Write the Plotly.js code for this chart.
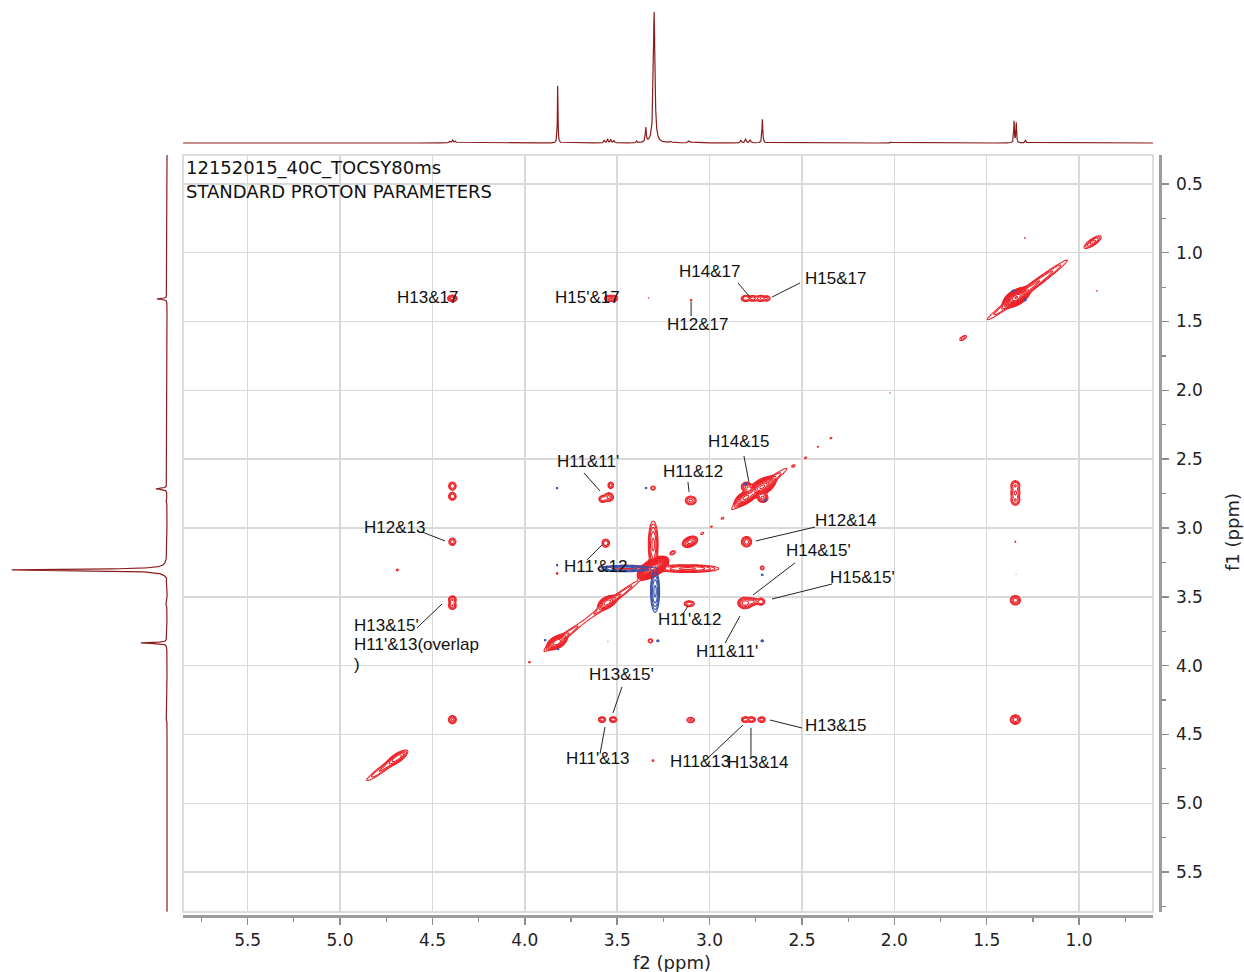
<!DOCTYPE html>
<html>
<head>
<meta charset="utf-8">
<script src="https://cdn.plot.ly/plotly-3.0.1.min.js"></script>
<style>
  html, body { margin: 0; padding: 0; background: #ffffff; }
  #chart { width: 1244px; height: 972px; }
</style>
</head>
<body>
<div id="chart"></div>
<script>
// ---------------- 1D proton spectrum along f2 (top trace) ----------------
// shift (ppm), height (relative), half-width (ppm)
const f2LineShift  = [4.405, 4.390, 4.375, 4.730, 3.822, 3.570, 3.552, 3.535, 3.518, 3.395, 3.345, 3.300, 3.210, 3.110, 2.830, 2.805, 2.780, 2.714, 2.020, 1.352, 1.340, 1.290];
const f2LineHeight = [0.012, 0.020, 0.012, -0.004, 0.420, 0.020, 0.028, 0.025, 0.018, 0.012, 0.100, 0.915, 0.010, 0.016, 0.018, 0.025, 0.020, 0.170, 0.006, 0.150, 0.140, 0.020];
const f2LineWidth  = [0.004, 0.004, 0.004, 0.004, 0.0018, 0.003, 0.003, 0.003, 0.003, 0.002, 0.003, 0.005, 0.006, 0.006, 0.004, 0.004, 0.004, 0.0025, 0.001, 0.0022, 0.0022, 0.003];

// ---------------- 1D proton spectrum along f1 (left trace) ----------------
const f1LineShift  = [0.930, 1.335, 2.030, 2.715, 2.800, 3.305, 3.360, 3.480, 3.550, 3.835, 4.390];
const f1LineHeight = [0.004, 0.060, 0.003, 0.066, 0.008, 0.930, -0.008, -0.006, 0.008, 0.156, 0.006];
const f1LineWidth  = [0.005, 0.004, 0.005, 0.005, 0.008, 0.006, 0.010, 0.008, 0.010, 0.004, 0.006];

// ---------------- 2D TOCSY peaks ----------------
// Positive cross peaks: f2, f1 (ppm), amplitude (contour threshold = 1), linewidths along f2 / f1 (ppm)
const crossF2  = [4.392, 3.548, 3.518, 3.100, 3.330, 2.805, 2.765, 2.725, 2.690,
                  1.345, 1.345, 1.345, 1.345, 1.340, 1.345, 1.345,
                  4.392, 4.392, 4.392, 4.392, 4.392, 4.392, 4.690,
                  3.535, 3.545, 3.580, 3.562, 3.582, 3.522,
                  3.825, 3.306, 3.320, 3.306,
                  3.102, 3.110, 3.102,
                  2.800, 2.808, 2.765, 2.722, 2.715, 2.808, 2.772, 2.718,
                  1.293, 0.903, 2.023, 2.712, 2.800,
                  3.305, 3.120, 3.450];
const crossF1  = [1.332, 1.332, 1.332, 1.345, 1.330, 1.332, 1.332, 1.332, 1.332,
                  2.690, 2.745, 2.800, 3.100, 3.335, 3.525, 4.392,
                  2.695, 2.770, 3.100, 3.520, 3.565, 4.392, 3.305,
                  2.690, 2.775, 2.790, 3.110, 4.392, 4.392,
                  3.330, 2.710, 3.820, 4.690,
                  2.800, 3.550, 4.395,
                  3.100, 3.545, 3.535, 3.535, 3.290, 4.392, 4.392, 4.392,
                  0.893, 1.278, 2.020, 2.780, 2.700,
                  3.120, 3.295, 3.285];
const crossAmp = [4.5, 3.5, 3.5, 1.4, 1.15, 3.5, 3.0, 3.5, 2.6,
                  3.5, 3.5, 3.5, 1.3, 1.1, 4.5, 4.5,
                  3.5, 3.5, 3.0, 3.5, 3.5, 4.0, 1.6,
                  3.0, 4.0, 3.0, 3.5, 3.2, 3.2,
                  1.5, 2.2, 2.2, 1.5,
                  4.0, 3.2, 2.6,
                  4.5, 7.0, 3.5, 3.5, 2.2, 3.0, 3.0, 3.0,
                  1.2, 1.2, 1.2, 6.0, 6.0,
                  6.0, 6.0, 2.2];
const crossW2  = [0.015, 0.013, 0.013, 0.006, 0.005, 0.015, 0.013, 0.013, 0.013,
                  0.015, 0.015, 0.015, 0.005, 0.005, 0.016, 0.016,
                  0.013, 0.013, 0.013, 0.013, 0.013, 0.013, 0.006,
                  0.010, 0.015, 0.013, 0.013, 0.013, 0.013,
                  0.005, 0.010, 0.010, 0.006,
                  0.018, 0.018, 0.015,
                  0.016, 0.020, 0.015, 0.013, 0.008, 0.013, 0.013, 0.013,
                  0.005, 0.005, 0.005, 0.015, 0.015,
                  0.014, 0.090, 0.070];
const crossW1  = [0.014, 0.014, 0.014, 0.009, 0.007, 0.014, 0.014, 0.014, 0.014,
                  0.022, 0.022, 0.022, 0.007, 0.006, 0.020, 0.020,
                  0.018, 0.018, 0.018, 0.017, 0.017, 0.018, 0.008,
                  0.016, 0.019, 0.016, 0.019, 0.014, 0.014,
                  0.009, 0.012, 0.012, 0.008,
                  0.019, 0.014, 0.014,
                  0.022, 0.021, 0.016, 0.016, 0.012, 0.014, 0.014, 0.014,
                  0.007, 0.007, 0.007, 0.018, 0.018,
                  0.090, 0.015, 0.012];

// Diagonal peaks: centre (f2, f1), amplitude, spread along the diagonal and across it (ppm per axis)
const diagF2    = [0.925, 1.340, 1.280, 1.628, 2.343, 2.413, 2.480, 2.545, 2.715, 2.805, 2.730, 2.930, 2.990, 3.040, 3.106, 3.200, 3.306, 3.520, 3.555, 3.826, 3.800, 3.975, 4.690, 4.760];
const diagF1    = [0.922, 1.325, 1.270, 1.620, 2.346, 2.410, 2.490, 2.550, 2.700, 2.778, 2.715, 2.930, 2.990, 3.040, 3.100, 3.180, 3.290, 3.520, 3.540, 3.830, 3.800, 3.975, 4.670, 4.740];
const diagAmp   = [4.0, 150, 4.0, 1.8, 1.4, 1.2, 1.4, 1.3, 70, 20, 3.0, 1.3, 1.3, 1.5, 10, 2.0, 1500, 2.5, 15, 25, 2.5, 1.3, 6.0, 2.5];
const diagAlong = [0.025, 0.020, 0.130, 0.014, 0.006, 0.005, 0.006, 0.006, 0.022, 0.022, 0.100, 0.006, 0.006, 0.008, 0.016, 0.011, 0.020, 0.100, 0.018, 0.018, 0.070, 0.005, 0.024, 0.070];
const diagAcross= [0.009, 0.011, 0.010, 0.007, 0.004, 0.004, 0.004, 0.004, 0.012, 0.011, 0.010, 0.004, 0.004, 0.005, 0.011, 0.007, 0.010, 0.009, 0.011, 0.011, 0.009, 0.004, 0.010, 0.010];

// Negative peaks (blue contours)
const negF2  = [1.357, 1.293, 2.803, 2.700, 3.825, 3.344, 3.825, 3.890, 3.820, 3.280, 2.715, 2.715, 3.826, 3.550, 3.295, 3.460];
const negF1  = [1.278, 1.343, 2.680, 2.800, 2.710, 2.710, 3.270, 3.815, 3.880, 3.820, 3.340, 3.820, 3.555, 3.825, 3.460, 3.295];
const negAmp = [2.0, 2.0, 2.0, 1.8, 1.6, 1.6, 1.6, 1.6, 1.6, 1.8, 1.5, 2.0, 1.2, 1.2, 6.0, 5.0];
const negW2  = [0.006, 0.006, 0.008, 0.006, 0.005, 0.005, 0.004, 0.005, 0.005, 0.006, 0.006, 0.006, 0.003, 0.003, 0.013, 0.080];
const negW1  = [0.006, 0.006, 0.006, 0.008, 0.006, 0.006, 0.008, 0.006, 0.006, 0.007, 0.006, 0.007, 0.004, 0.004, 0.080, 0.013];

// Assignment labels: text centre (f2, f1) and leader line [f2a, f1a, f2b, f1b]
const labelSpecs = [
  {t: 'H13&17',  x: 4.524, y: 1.322},
  {t: "H15'&17", x: 3.663, y: 1.322},
  {t: 'H14&17',  x: 2.998, y: 1.133, l: [2.846, 1.220, 2.781, 1.322]},
  {t: 'H15&17',  x: 2.321, y: 1.184, l: [2.511, 1.220, 2.662, 1.322]},
  {t: 'H12&17',  x: 3.068, y: 1.518, l: [3.100, 1.460, 3.100, 1.358]},
  {t: 'H14&15',  x: 2.846, y: 2.375, l: [2.814, 2.477, 2.787, 2.666]},
  {t: "H11&11'", x: 3.658, y: 2.520, l: [3.680, 2.600, 3.593, 2.731]},
  {t: 'H11&12',  x: 3.090, y: 2.593, l: [3.117, 2.666, 3.111, 2.738]},
  {t: 'H12&13',  x: 4.703, y: 2.993, l: [4.556, 3.029, 4.432, 3.094]},
  {t: 'H12&14',  x: 2.267, y: 2.942, l: [2.429, 2.993, 2.749, 3.094]},
  {t: "H11'&12", x: 3.615, y: 3.283, l: [3.663, 3.232, 3.582, 3.123]},
  {t: "H14&15'", x: 2.413, y: 3.167, l: [2.538, 3.254, 2.765, 3.487]},
  {t: "H15&15'", x: 2.170, y: 3.363, l: [2.337, 3.407, 2.662, 3.516]},
  {t: "H11'&12", x: 3.111, y: 3.668, l: [3.144, 3.625, 3.117, 3.567]},
  {t: "H11&11'", x: 2.906, y: 3.894, l: [2.916, 3.836, 2.835, 3.639]},
  {t: "H13&15'", x: 4.935, y: 3.712, left: true, l: [4.584, 3.726, 4.448, 3.552]},
  {t: "H11'&13(overlap", x: 4.935, y: 3.850, left: true},
  {t: ')',       x: 4.935, y: 3.995, left: true},
  {t: "H13&15'", x: 3.479, y: 4.068, l: [3.474, 4.155, 3.523, 4.344]},
  {t: "H11'&13", x: 3.609, y: 4.678, l: [3.593, 4.641, 3.566, 4.446]},
  {t: 'H11&13',  x: 3.052, y: 4.700, l: [3.008, 4.670, 2.819, 4.431]},
  {t: 'H13&14',  x: 2.738, y: 4.707, l: [2.776, 4.663, 2.776, 4.453]},
  {t: 'H13&15',  x: 2.316, y: 4.438, l: [2.500, 4.453, 2.673, 4.395]}
];

const headerLines = ['12152015_40C_TOCSY80ms', 'STANDARD PROTON PARAMETERS'];

// ---------------- page geometry ----------------
const W = 1244, H = 972;
const box = {left: 183, right: 1153, top: 155, bottom: 912};
const f2Range = [5.85, 0.60];
const f1Range = [5.79, 0.29];

// ---------------- build the 1D traces ----------------
function lorentzSum(grid, shifts, heights, widths) {
  return grid.map(v => {
    let s = 0;
    for (let k = 0; k < shifts.length; k++) {
      const d = v - shifts[k], w = widths[k];
      s += heights[k] * w * w / (d * d + w * w);
    }
    return s;
  });
}
const ppmTop = [];
for (let v = 0.60; v <= 5.85; v += 0.0008) ppmTop.push(v);
const topInt = lorentzSum(ppmTop, f2LineShift, f2LineHeight, f2LineWidth);
const ppmLeft = [];
for (let v = 0.29; v <= 5.79; v += 0.001) ppmLeft.push(v);
const leftInt = lorentzSum(ppmLeft, f1LineShift, f1LineHeight, f1LineWidth);

// ---------------- build the 2D surfaces ----------------
const gx0 = 0.75, gx1 = 4.98, gdx = 0.005;
const gy0 = 0.75, gy1 = 4.98, gdy = 0.0065;
const nx = Math.round((gx1 - gx0) / gdx) + 1;
const ny = Math.round((gy1 - gy0) / gdy) + 1;
const gxs = Array.from({length: nx}, (_, i) => gx0 + i * gdx);
const gys = Array.from({length: ny}, (_, j) => gy0 + j * gdy);
function emptyGrid() { return Array.from({length: ny}, () => new Float64Array(nx)); }

function addPeak(g, c2, c1, amp, s2, s1, diagonal) {
  const r = Math.sqrt(2 * Math.log(Math.max(amp, 1.01) * 50));
  let e2, e1;
  if (diagonal) { e2 = e1 = r * (s2 + s1); } else { e2 = r * s2; e1 = r * s1; }
  const i0 = Math.max(0, Math.floor((c2 - e2 - gx0) / gdx));
  const i1 = Math.min(nx - 1, Math.ceil((c2 + e2 - gx0) / gdx));
  const j0 = Math.max(0, Math.floor((c1 - e1 - gy0) / gdy));
  const j1 = Math.min(ny - 1, Math.ceil((c1 + e1 - gy0) / gdy));
  for (let j = j0; j <= j1; j++) {
    const d1 = gys[j] - c1, row = g[j];
    for (let i = i0; i <= i1; i++) {
      const d2 = gxs[i] - c2;
      let q;
      if (diagonal) {
        const a = (d2 + d1) / 2, c = (d2 - d1) / 2;
        q = a * a / (s2 * s2) + c * c / (s1 * s1);
      } else {
        q = d2 * d2 / (s2 * s2) + d1 * d1 / (s1 * s1);
      }
      row[i] += amp * Math.exp(-q / 2);
    }
  }
}

const posGrid = emptyGrid();
for (let k = 0; k < crossF2.length; k++) addPeak(posGrid, crossF2[k], crossF1[k], crossAmp[k], crossW2[k], crossW1[k], false);
for (let k = 0; k < diagF2.length; k++) addPeak(posGrid, diagF2[k], diagF1[k], diagAmp[k], diagAlong[k], diagAcross[k], true);
const negGrid = emptyGrid();
for (let k = 0; k < negF2.length; k++) addPeak(negGrid, negF2[k], negF1[k], negAmp[k], negW2[k], negW1[k], false);

// contour levels are geometric, so contour the log of the intensity
const toLog = g => g.map(row => Array.from(row, v => Math.log10(v + 1e-4)));
const posLog = toLog(posGrid);
const negLog = toLog(negGrid);

const RED = '#ec2329', BLUE = '#3a52aa', SPEC = '#8b1c1c';
const contourLevels = {coloring: 'lines', start: 0, end: 3.4, size: 0.18, showlabels: false};

const traces = [
  {
    type: 'contour', x: gxs, y: gys, z: posLog, xaxis: 'x', yaxis: 'y',
    autocontour: false, contours: contourLevels,
    colorscale: [[0, RED], [1, RED]], showscale: false,
    line: {width: 1.1, smoothing: 0.9}, hoverinfo: 'skip'
  },
  {
    type: 'contour', x: gxs, y: gys, z: negLog, xaxis: 'x', yaxis: 'y',
    autocontour: false, contours: contourLevels,
    colorscale: [[0, BLUE], [1, BLUE]], showscale: false,
    line: {width: 1.1, smoothing: 0.9}, hoverinfo: 'skip'
  },
  {
    type: 'scatter', mode: 'lines', x: ppmTop, y: topInt, xaxis: 'x2', yaxis: 'y2',
    line: {color: SPEC, width: 1.2}, hoverinfo: 'skip'
  },
  {
    type: 'scatter', mode: 'lines', x: leftInt, y: ppmLeft, xaxis: 'x3', yaxis: 'y3',
    line: {color: SPEC, width: 1.2}, hoverinfo: 'skip'
  }
];

// ---------------- annotations & leader lines ----------------
const labelFont = {family: 'Liberation Sans, Arial, sans-serif', size: 17, color: '#111111'};
const annotations = labelSpecs.map(s => ({
  xref: 'x', yref: 'y', x: s.x, y: s.y, text: s.t, showarrow: false,
  xanchor: s.left ? 'left' : 'center', yanchor: 'middle', font: labelFont
}));
const headFont = {family: 'DejaVu Sans, Verdana, sans-serif', size: 18, color: '#111111'};
headerLines.forEach((t, i) => annotations.push({
  xref: 'paper', yref: 'paper', x: 184 / W, y: 1 - (168 + i * 23) / H, text: t,
  showarrow: false, xanchor: 'left', yanchor: 'middle', font: headFont
}));
const axisTitleFont = {family: 'DejaVu Sans, Verdana, sans-serif', size: 18, color: '#222222'};
annotations.push({xref: 'paper', yref: 'paper', x: 672 / W, y: 1 - 962 / H, text: 'f2 (ppm)',
  showarrow: false, xanchor: 'center', yanchor: 'middle', font: axisTitleFont});
annotations.push({xref: 'paper', yref: 'paper', x: 1232 / W, y: 1 - 532 / H, text: 'f1 (ppm)',
  showarrow: false, xanchor: 'center', yanchor: 'middle', textangle: -90, font: axisTitleFont});

const shapes = [{
  type: 'rect', xref: 'paper', yref: 'paper', layer: 'below',
  x0: box.left / W, x1: box.right / W, y0: 1 - box.bottom / H, y1: 1 - box.top / H,
  line: {color: '#d2d2d2', width: 1.5}
}];
labelSpecs.filter(s => s.l).forEach(s => shapes.push({
  type: 'line', xref: 'x', yref: 'y', x0: s.l[0], y0: s.l[1], x1: s.l[2], y1: s.l[3],
  line: {color: '#222222', width: 1}
}));

const tickFont = {family: 'DejaVu Sans, Verdana, sans-serif', size: 17, color: '#222222'};
const layout = {
  width: W, height: H, margin: {l: 0, r: 0, t: 0, b: 0},
  paper_bgcolor: '#ffffff', plot_bgcolor: 'rgba(0,0,0,0)', showlegend: false,
  xaxis: {
    domain: [box.left / W, box.right / W], range: f2Range, anchor: 'free', position: 1 - 916 / H,
    showline: true, linecolor: '#9c9c9c', linewidth: 2.5,
    ticks: 'outside', ticklen: 7, tickwidth: 1.5, tickcolor: '#8c8c8c',
    tick0: 0, dtick: 0.5, tickformat: '.1f', tickfont: tickFont, ticklabelstandoff: 1,
    minor: {ticks: 'outside', ticklen: 4, tickwidth: 1.2, tickcolor: '#8c8c8c', dtick: 0.25, tick0: 0, showgrid: false},
    showgrid: true, gridcolor: '#d9d9d9', gridwidth: 1.5, zeroline: false, fixedrange: true
  },
  yaxis: {
    domain: [1 - box.bottom / H, 1 - box.top / H], range: f1Range, anchor: 'free', position: 1160 / W,
    side: 'right', showline: true, linecolor: '#9c9c9c', linewidth: 2.5,
    ticks: 'outside', ticklen: 7, tickwidth: 1.5, tickcolor: '#8c8c8c',
    tick0: 0, dtick: 0.5, tickformat: '.1f', tickfont: tickFont, ticklabelstandoff: 4,
    minor: {ticks: 'outside', ticklen: 4, tickwidth: 1.2, tickcolor: '#8c8c8c', dtick: 0.25, tick0: 0, showgrid: false},
    showgrid: true, gridcolor: '#d9d9d9', gridwidth: 1.5, zeroline: false, fixedrange: true
  },
  xaxis2: {domain: [box.left / W, box.right / W], range: f2Range, anchor: 'y2', visible: false, fixedrange: true},
  yaxis2: {domain: [1 - 150 / H, 1], range: [-0.049, 1.0], anchor: 'x2', visible: false, fixedrange: true},
  xaxis3: {domain: [0, 180 / W], range: [1.0, -0.0778], anchor: 'y3', visible: false, fixedrange: true},
  yaxis3: {domain: [1 - box.bottom / H, 1 - box.top / H], range: f1Range, anchor: 'x3', visible: false, fixedrange: true},
  annotations: annotations,
  shapes: shapes
};

Plotly.newPlot('chart', traces, layout, {staticPlot: true, displayModeBar: false});
</script>
</body>
</html>
